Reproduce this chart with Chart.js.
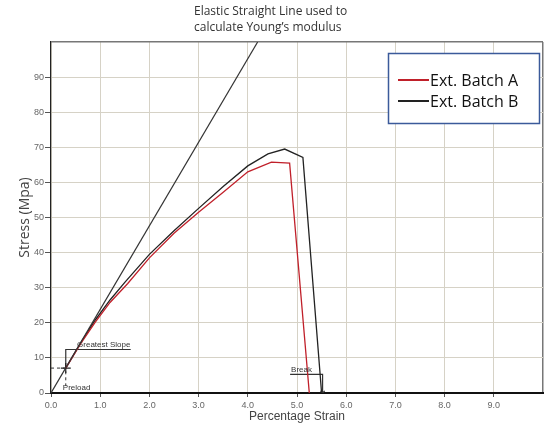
<!DOCTYPE html>
<html>
<head>
<meta charset="utf-8">
<script src="https://cdn.jsdelivr.net/npm/chart.js@4/dist/chart.umd.min.js"></script>
<style>
  body { margin: 0; background: #fff; }
</style>
</head>
<body>
<canvas id="stress-chart" width="550" height="426"></canvas>
<script>
// readings taken off the test plot (strain %, stress MPa)
const strainA = [0.3, 0.6, 0.9, 1.2, 1.56, 2.0, 2.5, 3.0, 3.5, 4.0, 4.48, 4.85, 5.25];
const stressA = [7.1, 14, 20.2, 25.8, 31.2, 38.5, 45.5, 51.5, 57.2, 63, 65.8, 65.5, 0];

const strainB = [0.3, 0.6, 0.9, 1.2, 1.5, 2.0, 2.5, 3.0, 3.5, 4.0, 4.41, 4.75, 5.12, 5.5];
const stressB = [7.1, 14.2, 20.8, 26.5, 31.5, 39.5, 46.2, 52.6, 58.8, 64.7, 68.1, 69.5, 67.1, 0];

// elastic straight line (Young's modulus)
const elasticStrain = [0, 4.2];
const elasticStress = [0, 100];

// annotation brackets
const slopeStrain = [0.3, 0.3, 1.62];
const slopeStress = [7.1, 12.4, 12.4];
const preloadStrain = [0, 0.3, 0.3];
const preloadStress = [7.1, 7.1, 2];
const breakStrain = [4.86, 5.52, 5.52];
const breakStress = [5.3, 5.3, 0];

const labelA = 'Ext. Batch A';
const labelB = 'Ext. Batch B';

function pts(xs, ys) {
  return xs.map((x, i) => ({ x: x, y: ys[i] }));
}

const textPlugin = {
  id: 'texts',
  afterDraw(chart) {
    const ctx = chart.ctx;
    const area = chart.chartArea;
    const x = chart.scales.x;
    const y = chart.scales.y;
    ctx.save();

    // note above the plot
    ctx.fillStyle = '#333';
    ctx.font = '12px "Open Sans"';
    ctx.textAlign = 'left';
    ctx.textBaseline = 'middle';
    ctx.fillText('Elastic Straight Line used to', 194, 12);
    ctx.fillText('calculate Young\u2019s modulus', 194, 28);

    // axis titles
    ctx.fillStyle = '#444';
    ctx.font = '12px "Liberation Sans"';
    ctx.textAlign = 'center';
    ctx.fillText('Percentage Strain', (area.left + area.right) / 2, 417);

    ctx.save();
    ctx.translate(25, (area.top + area.bottom) / 2);
    ctx.rotate(-Math.PI / 2);
    ctx.font = '14px "Open Sans"';
    ctx.fillText('Stress (Mpa)', 0, 0);
    ctx.restore();

    // small annotation labels
    ctx.fillStyle = '#333';
    ctx.font = '8px "Liberation Sans"';
    ctx.textAlign = 'left';
    ctx.textBaseline = 'bottom';
    ctx.fillText('Greatest Slope', x.getPixelForValue(0.53), y.getPixelForValue(12.4) - 0.5);
    ctx.fillText('Preload', x.getPixelForValue(0.24), y.getPixelForValue(0) - 1);
    ctx.fillText('Break', x.getPixelForValue(4.88), y.getPixelForValue(5.3) - 0.5);

    // legend box
    ctx.fillStyle = '#fff';
    ctx.fillRect(388, 53, 152, 71);
    ctx.strokeStyle = '#3b5a9a';
    ctx.lineWidth = 1.5;
    ctx.strokeRect(388.5, 53.5, 151, 70);
    const items = chart.data.datasets.filter(d => d.inLegend);
    items.forEach((d, i) => {
      const ly = 80 + i * 21;
      ctx.strokeStyle = d.borderColor;
      ctx.lineWidth = 2;
      ctx.beginPath();
      ctx.moveTo(398, ly);
      ctx.lineTo(429, ly);
      ctx.stroke();
      ctx.fillStyle = '#111';
      ctx.font = '16px "Open Sans"';
      ctx.textBaseline = 'middle';
      ctx.fillText(d.label, 430, ly + 1);
    });
    ctx.restore();
  }
};

new Chart(document.getElementById('stress-chart'), {
  type: 'scatter',
  data: {
    datasets: [
      {
        label: 'Elastic',
        data: pts(elasticStrain, elasticStress),
        showLine: true,
        borderColor: '#333',
        borderWidth: 1.2,
        pointRadius: 0
      },
      {
        label: labelA,
        inLegend: true,
        data: pts(strainA, stressA),
        showLine: true,
        borderColor: '#c0202a',
        borderWidth: 1.3,
        pointRadius: 0
      },
      {
        label: labelB,
        inLegend: true,
        data: pts(strainB, stressB),
        showLine: true,
        borderColor: '#222',
        borderWidth: 1.3,
        pointRadius: 0
      },
      {
        label: 'Greatest Slope',
        data: pts(slopeStrain, slopeStress),
        showLine: true,
        borderColor: '#333',
        borderWidth: 1.2,
        pointRadius: [5, 0, 0],
        pointStyle: 'cross',
        pointBorderColor: '#222'
      },
      {
        label: 'Preload',
        data: pts(preloadStrain, preloadStress),
        showLine: true,
        borderColor: '#333',
        borderWidth: 1,
        borderDash: [3, 3],
        pointRadius: 0
      },
      {
        label: 'Break',
        data: pts(breakStrain, breakStress),
        showLine: true,
        borderColor: '#333',
        borderWidth: 1.2,
        pointRadius: [0, 0, 3],
        pointStyle: 'crossRot',
        pointBorderColor: '#333'
      }
    ]
  },
  options: {
    responsive: false,
    animation: false,
    layout: { padding: { top: 42, right: 7, left: 0, bottom: 0 } },
    plugins: {
      legend: { display: false },
      tooltip: { enabled: false }
    },
    scales: {
      x: {
        type: 'linear',
        min: 0,
        max: 10,
        afterFit: s => { s.height = 33; },
        border: { color: '#111', width: 2 },
        grid: {
          color: c => c.tick && c.tick.value === 10 ? '#777' : '#d6d2c6',
          lineWidth: c => c.tick && c.tick.value === 10 ? 1.5 : 1,
          tickLength: 4,
          tickColor: c => c.tick && c.tick.value === 10 ? 'rgba(0,0,0,0)' : '#555'
        },
        ticks: {
          stepSize: 1,
          autoSkip: false,
          maxRotation: 0,
          padding: 3,
          color: '#666',
          font: { family: 'Liberation Sans', size: 9 },
          callback: v => v >= 10 ? '' : v.toFixed(1)
        }
      },
      y: {
        min: 0,
        max: 100,
        afterFit: s => { s.width = 51; },
        border: { color: '#222', width: 1.2 },
        grid: {
          color: c => c.tick && c.tick.value === 100 ? '#777' : '#d6d2c6',
          lineWidth: c => c.tick && c.tick.value === 100 ? 1.5 : 1,
          tickLength: 6,
          tickColor: c => c.tick && c.tick.value === 100 ? 'rgba(0,0,0,0)' : '#555'
        },
        ticks: {
          stepSize: 10,
          padding: 1,
          color: '#666',
          font: { family: 'Liberation Sans', size: 9 },
          callback: v => v >= 100 ? '' : v
        }
      }
    }
  },
  plugins: [textPlugin]
});
</script>
</body>
</html>
